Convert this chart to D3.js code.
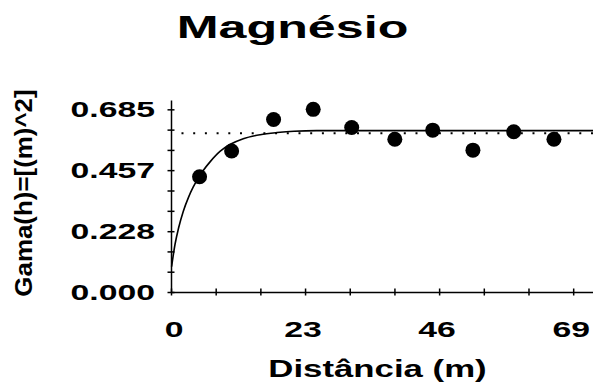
<!DOCTYPE html>
<html>
<head>
<meta charset="utf-8">
<script src="https://cdn.jsdelivr.net/npm/d3@7"></script>
<style>
  html, body { margin: 0; padding: 0; background: #fff; }
  svg { display: block; }
  text { font-family: "Liberation Sans", Arial, Helvetica, sans-serif; font-weight: bold; fill: #000; }
</style>
</head>
<body>
<svg id="chart" width="593" height="392"></svg>
<script>
// ---- data ----
const title = "Magnésio";
const xTitle = "Distância (m)";
const yTitle = "Gama(h)=[(m)^2]";

// experimental semivariogram points
const lagDistance = [4.9, 10.4, 17.6, 24.4, 31.0, 38.4, 44.9, 51.8, 58.8, 65.7];
const gammaValues = [0.432, 0.529, 0.647, 0.685, 0.617, 0.573, 0.607, 0.532, 0.601, 0.573];

// fitted model curve
const modelH     = [0.1, 0.7, 1.3, 2.1, 3.0, 3.8, 4.7, 5.5, 6.7, 8.4, 10.1, 12.4, 15.3, 18.2, 21.1, 25, 72.4];
const modelGamma = [0.095, 0.180, 0.240, 0.302, 0.355, 0.393, 0.428, 0.455, 0.488, 0.527, 0.553, 0.575, 0.590, 0.598, 0.603, 0.605, 0.605];

// sample variance (dotted line)
const sillVariance = 0.595;
const sillStart = 1.8;

// axis ticks
const xTickValues = [0, 7.667, 15.333, 23, 30.667, 38.333, 46, 53.667, 61.333, 69];
const xTickLabels = ["0", "", "", "23", "", "", "46", "", "", "69"];
const yTickValues = [0, 0.0761, 0.1522, 0.228, 0.3044, 0.3806, 0.457, 0.5328, 0.6089, 0.685];
const yTickLabels = ["0.000", "", "", "0.228", "", "", "0.457", "", "", "0.685"];

// ---- drawing ----
const svg = d3.select("#chart");
const SX = 1.57; // horizontal stretch of the reference text

const x = d3.scaleLinear().domain([0, 72.4]).range([171, 593]);
const y = d3.scaleLinear().domain([0, 0.72]).range([292, 100]);

// x axis
const gx = svg.append("g").attr("transform", `translate(0,${y(0)})`)
  .call(d3.axisBottom(x).tickValues(xTickValues).tickSizeOuter(0).tickSizeInner(0).tickFormat(""));
gx.select(".domain").attr("stroke", "#000").attr("stroke-width", 1.5);
gx.selectAll(".tick line").attr("y1", -3.5).attr("y2", 3.5).attr("stroke", "#000").attr("stroke-width", 1.5);

// y axis
const gy = svg.append("g").attr("transform", `translate(${x(0)},0)`)
  .call(d3.axisLeft(y).tickValues(yTickValues).tickSizeOuter(0).tickSizeInner(0).tickFormat(""));
gy.select(".domain").attr("stroke", "#000").attr("stroke-width", 1.5);
gy.selectAll(".tick line").attr("x1", -3.5).attr("x2", 3.5).attr("stroke", "#000").attr("stroke-width", 1.5);

// tick labels
xTickValues.forEach((v, i) => {
  if (!xTickLabels[i]) return;
  svg.append("text")
    .attr("transform", `translate(${x(v) + (i === 0 ? 3 : -2)},337) scale(${SX},1)`)
    .attr("text-anchor", "middle")
    .attr("font-size", 21.5)
    .text(xTickLabels[i]);
});
yTickValues.forEach((v, i) => {
  if (!yTickLabels[i]) return;
  svg.append("text")
    .attr("transform", `translate(155,${y(v) + 8}) scale(${SX},1)`)
    .attr("text-anchor", "end")
    .attr("font-size", 21.5)
    .text(yTickLabels[i]);
});

// sill dotted line
svg.append("line")
  .attr("x1", x(sillStart)).attr("x2", x(72.4))
  .attr("y1", y(sillVariance)).attr("y2", y(sillVariance))
  .attr("stroke", "#000").attr("stroke-width", 2)
  .attr("stroke-dasharray", "2,9.7");

// model curve
const modelData = modelH.map((h, i) => [h, modelGamma[i]]);
svg.append("path")
  .datum(modelData)
  .attr("fill", "none").attr("stroke", "#000").attr("stroke-width", 1.6)
  .attr("d", d3.line().x(d => x(d[0])).y(d => y(d[1])).curve(d3.curveMonotoneX));

// points
svg.append("g").selectAll("circle")
  .data(lagDistance.map((h, i) => [h, gammaValues[i]]))
  .join("circle")
  .attr("cx", d => x(d[0])).attr("cy", d => y(d[1]))
  .attr("r", 7.5).attr("fill", "#000");

// titles
svg.append("text")
  .attr("transform", `translate(292.5,37.5) scale(${SX},1)`)
  .attr("text-anchor", "middle")
  .attr("font-size", 32)
  .text(title);

svg.append("text")
  .attr("transform", `translate(377.5,377) scale(1.45,1)`)
  .attr("text-anchor", "middle")
  .attr("font-size", 24)
  .text(xTitle);

svg.append("text")
  .attr("transform", `translate(32,193) rotate(-90) scale(1.08,1)`)
  .attr("text-anchor", "middle")
  .attr("font-size", 24)
  .text(yTitle);
</script>
</body>
</html>
